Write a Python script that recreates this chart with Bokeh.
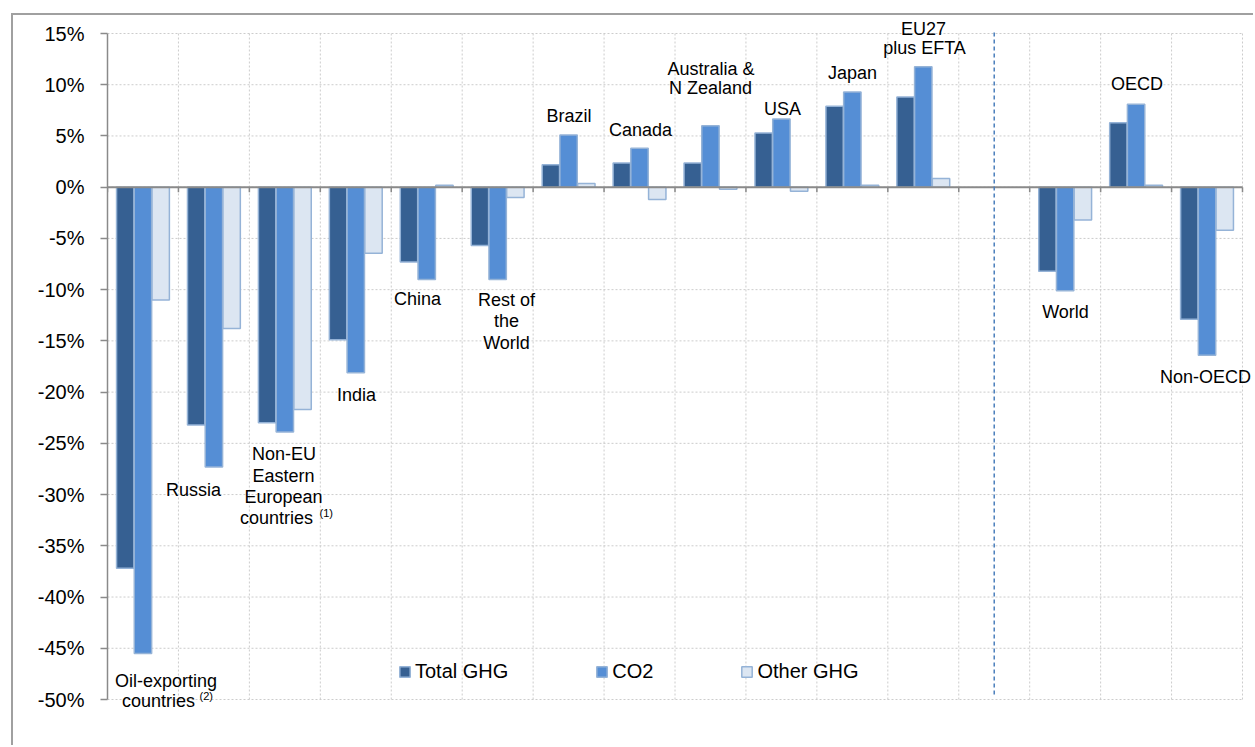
import numpy as np
from bokeh.plotting import figure
from bokeh.models import (Range1d, FixedTicker, PrintfTickFormatter, Label,
                          Legend, LegendItem)
from bokeh.embed import file_html
from bokeh.resources import INLINE

# ---------------- data ----------------
regions = ["Oil-exporting countries", "Russia", "Non-EU Eastern European countries",
           "India", "China", "Rest of the World", "Brazil", "Canada",
           "Australia & N Zealand", "USA", "Japan", "EU27 plus EFTA",
           "World", "OECD", "Non-OECD"]
total_ghg = [-37.2, -23.2, -23.0, -14.9, -7.3, -5.7, 2.2, 2.35, 2.35, 5.3, 7.9, 8.8, -8.2, 6.3, -12.9]
co2 = [-45.5, -27.3, -23.9, -18.1, -9.0, -9.0, 5.1, 3.8, 6.0, 6.65, 9.3, 11.75, -10.1, 8.1, -16.4]
other_ghg = [-11.0, -13.8, -21.7, -6.45, 0.2, -1.0, 0.35, -1.2, -0.2, -0.4, 0.2, 0.85, -3.2, 0.2, -4.2]
series_names = ["Total GHG", "CO2", "Other GHG"]
y_ticks = list(range(-50, 16, 5))
Y_MIN, Y_MAX = -50, 15

# ---------------- layout ----------------
N_SLOTS = 16          # 15 regions + one empty slot before the aggregates
GAP_SLOT = 12
slots = np.array([i if i < GAP_SLOT else i + 1 for i in range(len(regions))]) + 0.5
slot_edges = list(range(0, N_SLOTS + 1))

# page-pixel geometry of the reference
AX_LEFT, AX_RIGHT = 107.0, 1242.0        # x of slot 0 and slot 16
Y_TOP_PX, Y_BOT_PX = 33.0, 699.0         # y of 15% and -50%
CANVAS_LEFT, CANVAS_TOP = 13.0, 15.0
FRAME_RIGHT, FRAME_BOTTOM = 1253.0, 735.0
ppx = (AX_RIGHT - AX_LEFT) / N_SLOTS
ppu = (Y_BOT_PX - Y_TOP_PX) / (Y_MAX - Y_MIN)

def dx(px):
    return (px - AX_LEFT) / ppx

def dy(py):
    return Y_MAX - (py - Y_TOP_PX) / ppu

FONT = "Liberation Sans"
colors = ["#366092", "#558ed5", "#dce6f2"]
edge = "#95b3d7"
axis_col = "#8a8a8a"
grid_col = "#cccccc"

p = figure(output_backend="svg", toolbar_location=None,
           frame_width=int(FRAME_RIGHT - AX_LEFT), frame_height=int(FRAME_BOTTOM - CANVAS_TOP),
           x_range=Range1d(0, dx(FRAME_RIGHT)), y_range=Range1d(dy(FRAME_BOTTOM), dy(CANVAS_TOP)),
           min_border_left=int(AX_LEFT - CANVAS_LEFT), min_border_right=0,
           min_border_top=0, min_border_bottom=10,
           x_axis_location=None, y_axis_location="left")
p.styles = {"border-top": "2px solid #a0a0a0", "border-left": "2px solid #a0a0a0",
            "position": "relative", "left": "11px", "top": "13px"}
p.outline_line_color = None
p.background_fill_color = "white"
p.border_fill_color = "white"
p.xgrid.visible = False
p.ygrid.visible = False

# dotted grid limited to the axis box
p.segment(x0=0, x1=N_SLOTS, y0=y_ticks, y1=y_ticks, line_color=grid_col,
          line_dash="2 2", line_width=1)
p.segment(x0=slot_edges[1:], x1=slot_edges[1:], y0=Y_MIN, y1=Y_MAX, line_color=grid_col,
          line_dash="2 2", line_width=1)

# y axis
ya = p.yaxis[0]
ya.bounds = (Y_MIN, Y_MAX)
ya.ticker = FixedTicker(ticks=y_ticks)
ya.formatter = PrintfTickFormatter(format="%d%%")
ya.major_label_text_font = FONT
ya.major_label_text_font_size = "20px"
ya.major_label_text_color = "black"
ya.major_label_standoff = 16
ya.major_tick_in = 0
ya.major_tick_out = 7
ya.minor_tick_line_color = None
ya.axis_line_color = axis_col
ya.axis_line_width = 1.5
ya.major_tick_line_color = axis_col
ya.major_tick_line_width = 1.5

# bars
offsets = [-0.25, 0.0, 0.25]
bar_w = 0.245
renderers = []
for vals, off, col in zip([total_ghg, co2, other_ghg], offsets, colors):
    r = p.vbar(x=slots + off, top=vals, bottom=0, width=bar_w,
               fill_color=col, line_color=edge, line_width=1.5)
    renderers.append(r)

# zero line with downward tick marks at slot boundaries
tick_len = 5 / ppu
p.segment(x0=slot_edges, x1=slot_edges, y0=0, y1=-tick_len, line_color=axis_col, line_width=1.5)
p.segment(x0=0, x1=N_SLOTS, y0=0, y1=0, line_color=axis_col, line_width=2)

# dashed separator between regions and aggregates
p.segment(x0=GAP_SLOT + 0.5, x1=GAP_SLOT + 0.5, y0=Y_MIN + 0.5, y1=Y_MAX + 0.1,
          line_color="#4a7ebb", line_dash="4 3", line_width=1.5)

# category labels
label_lines = [
    ("Oil-exporting", 165.5, 680), ("countries", 158, 700),
    ("Russia", 193, 489),
    ("Non-EU", 283.5, 453), ("Eastern", 283, 475), ("European", 283, 496), ("countries", 276, 517),
    ("India", 356, 394),
    ("China", 417, 298),
    ("Rest of", 506, 299), ("the", 506, 320), ("World", 506, 342),
    ("Brazil", 568.5, 115),
    ("Canada", 640, 129),
    ("Australia &", 710.5, 68), ("N Zealand", 710, 87.5),
    ("USA", 782, 108),
    ("Japan", 852, 72),
    ("EU27", 923, 28.5), ("plus EFTA", 924, 47.5),
    ("World", 1065, 311.5),
    ("OECD", 1136.5, 83.5),
    ("Non-OECD", 1205, 376.5),
]
for txt, px, py in label_lines:
    p.add_layout(Label(x=dx(px), y=dy(py), text=txt, text_align="center",
                       text_baseline="middle", text_font=FONT, text_font_size="18px",
                       text_color="black"))
for txt, px, py in [("(2)", 199, 695), ("(1)", 319, 512)]:
    p.add_layout(Label(x=dx(px), y=dy(py), text=txt, text_align="left",
                       text_baseline="middle", text_font=FONT, text_font_size="11px",
                       text_color="black"))

# legend
legend = Legend(items=[LegendItem(label=n, renderers=[r]) for n, r in zip(series_names, renderers)],
                orientation="horizontal", location=(291, 52), spacing=87,
                glyph_width=13, glyph_height=13, label_standoff=4,
                label_text_font=FONT, label_text_font_size="20px", label_text_color="black",
                border_line_color=None, background_fill_alpha=0, padding=0, margin=0)
p.add_layout(legend, "center")

open("out.html", "w").write(file_html(p, INLINE))
